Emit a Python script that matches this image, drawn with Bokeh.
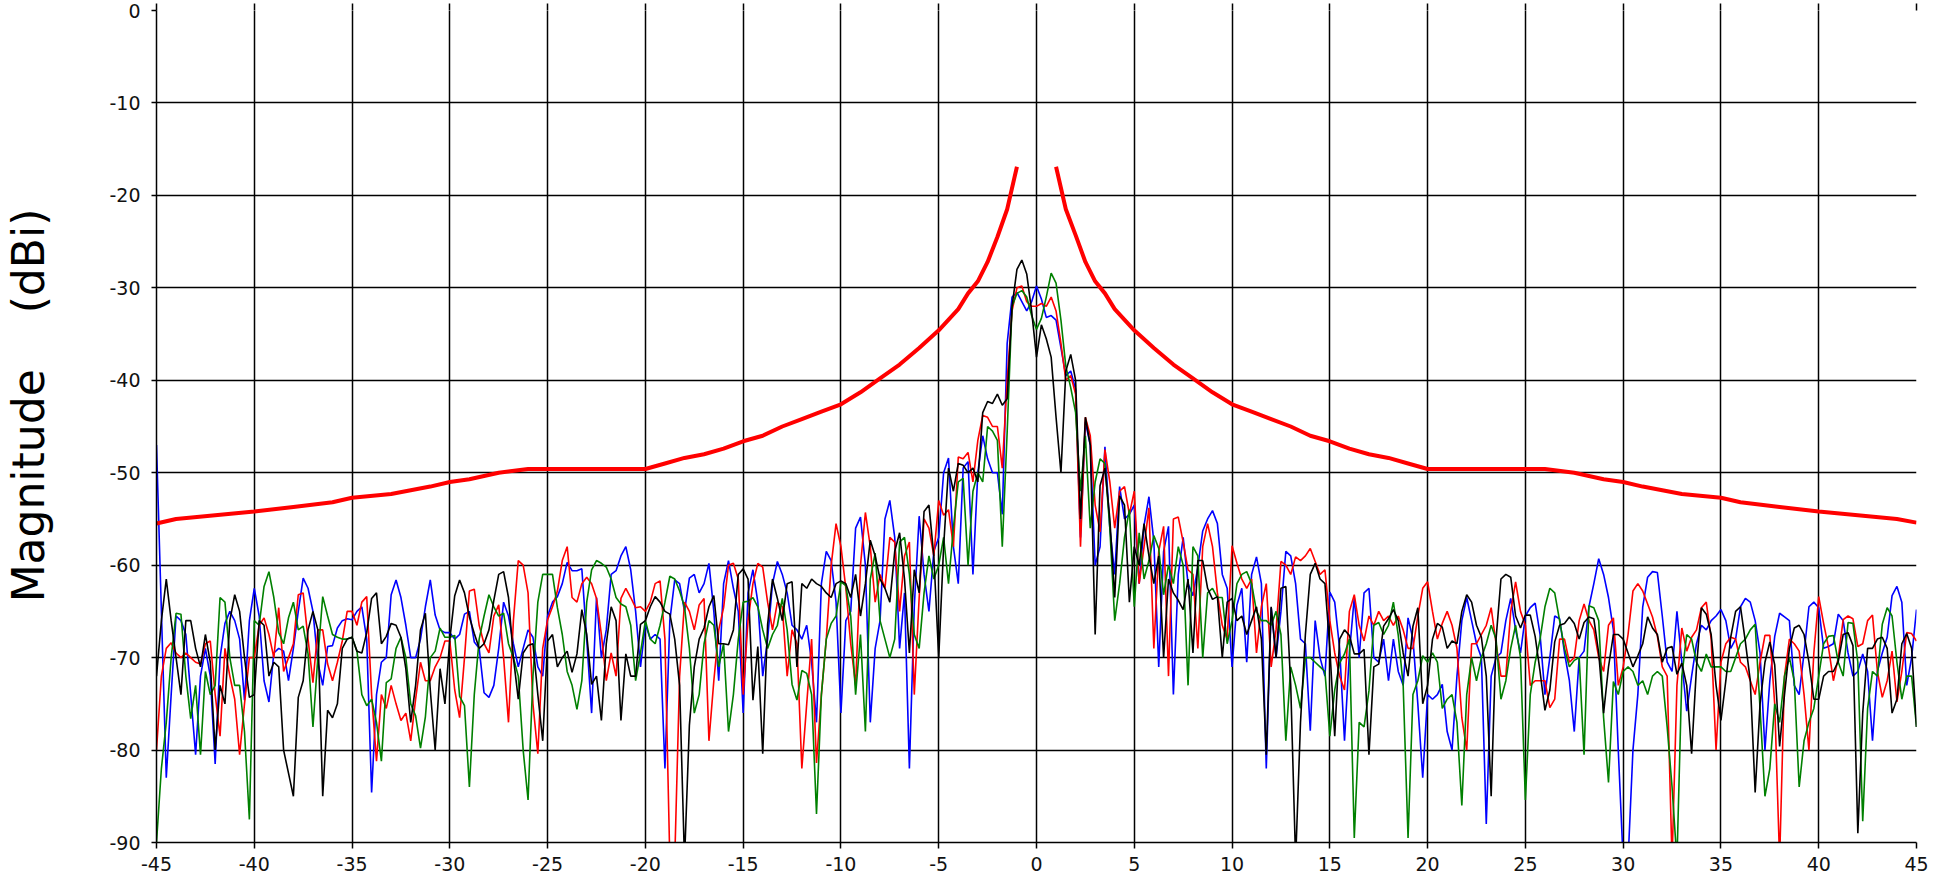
import numpy as np
from bokeh.plotting import figure
from bokeh.models import FixedTicker, Range1d, LinearAxis
from bokeh.embed import file_html
from bokeh.resources import INLINE

# Angle grid of the measured traces (degrees), 0.25 deg sampling
angles = [round(-45 + 0.25 * i, 2) for i in range(361)]

x_ticks = list(range(-45, 46, 5))
y_ticks = list(range(-90, 1, 10))
x_tick_labels = {t: str(t) for t in x_ticks}
y_tick_labels = {t: str(t) for t in y_ticks}
y_title_words = ["Magnitude", "(dBi)"]

blue_db = [
    -47, -65, -83, -74, -65.5, -66, -67.5, -74, -80.5, -72, -69, -72, -81.5, -70, -66.3, -65, -66, -68, -74.6, -66,
    -62.5, -65.5, -72.5, -74.8, -69.5, -69, -69.3, -72.5, -69, -65, -61.4, -62.5, -65, -70.5, -73, -68.8, -68.7, -66.8, -66, -65.8,
    -65.9, -65, -64.5, -68, -84.6, -74, -70.5, -70, -63.2, -61.6, -63.5, -66.5, -70, -70, -68, -64.5, -61.6, -65.4, -67, -67.3,
    -67.3, -68, -67.5, -65.3, -65, -68.3, -69, -73.8, -74.3, -73, -69, -64, -65.5, -68.5, -71, -69, -67, -67.8, -71, -72,
    -65.5, -64, -63.4, -62, -59.7, -60.6, -60.6, -60.4, -68, -76, -63.5, -70, -67, -61, -60.6, -59, -58, -60.5, -65, -71,
    -66.4, -68, -67.5, -68, -82, -66, -61.6, -62, -65, -61.4, -61, -63, -62, -59.8, -65, -72.5, -62, -59.5, -62.5, -65,
    -76, -63, -60.5, -64, -72, -68, -62, -59.6, -61, -63, -66.5, -67, -68, -66.5, -70.5, -77, -62, -58.5, -59.5, -64,
    -76, -66, -65, -56, -54.8, -60, -77, -69, -66, -55, -53, -57, -69, -63, -82, -64.5, -54.7, -61, -65, -58.5,
    -57, -50, -48.4, -58, -62, -49.5, -48.8, -61, -50, -46, -48.5, -50, -50, -54.5, -36, -31, -30.5, -31.5, -32.5, -31.5,
    -29.8, -31.2, -33.2, -33, -33.5, -36.5, -39.5, -39, -41, -57, -44.5, -47, -60, -58, -47.2, -56, -61, -51.5, -55, -54.5,
    -53.5, -62, -55.7, -52.6, -57.4, -71, -58.5, -55.8, -74, -61, -57, -62, -63.3, -60.2, -56.3, -55, -54.1, -55.5, -61, -62.5,
    -71, -64.3, -62.5, -70.5, -61, -59.1, -62, -82, -64.6, -70, -65, -58.5, -59, -62, -68, -68.5, -77.9, -66, -70, -72,
    -62.9, -64, -69, -79, -69.5, -63.5, -70, -63, -62.5, -70, -70.5, -68, -72.5, -68, -71.5, -73, -65.7, -68, -75, -83,
    -74, -74.5, -74, -72.9, -78, -80, -72, -66, -63.5, -66, -68.5, -70, -88, -72, -70, -69.5, -66, -63.6, -67, -69.5,
    -65.5, -64.6, -64.1, -67.5, -74, -70, -65.5, -65.8, -69.5, -72.5, -78, -70, -69.3, -64.5, -62, -59.3, -61, -63.5, -67, -80,
    -92, -92, -80, -74, -64.5, -61.3, -60.7, -60.8, -65.5, -70.5, -71.5, -65, -70.5, -75.8, -72, -68.5, -66.5, -67, -66, -65.5,
    -64.8, -66, -69, -68, -64.5, -63.6, -64, -66, -69.5, -80, -72.5, -67.7, -65.2, -65.6, -66, -73, -74, -69.5, -64.5, -64,
    -64.6, -69, -68.8, -68.5, -65.3, -66, -69.5, -72, -71.5, -69.6, -71.5, -79, -71.5, -69.5, -67.8, -63.3, -62.3, -64, -73, -70, -64.8,
]

red_db = [
    -80, -72, -69, -68.4, -69.5, -70, -69.5, -70, -70.5, -70.7, -68.5, -68.2, -74, -78.5, -69, -72, -74.5, -80.5, -75, -70,
    -70, -66.5, -65.7, -67.5, -70, -64.6, -71.5, -70, -68.5, -63.2, -63, -68, -72.7, -67, -67, -70.7, -72.5, -70.5, -68.2, -65,
    -65, -66.5, -64, -63.4, -74, -81.2, -74, -75.5, -73, -75, -76.8, -76, -79, -74.5, -70.5, -72.5, -72.5, -71, -70, -68.2,
    -68.2, -73.5, -76.5, -70, -62.8, -62.6, -66.5, -68.5, -69.5, -65.5, -64.3, -70, -77, -66, -59.5, -60, -63, -75, -80.4, -69,
    -65.9, -64.5, -62.8, -59.5, -58, -63.5, -64, -62, -61.3, -62, -63.6, -67.5, -72.5, -69.5, -72, -63.6, -62.5, -63.5, -64.6, -64.5,
    -65, -64, -62, -61.7, -68, -92, -92, -72, -64, -65, -67, -64.3, -63.6, -79, -72.5, -67, -64.6, -60, -59.8, -61.5,
    -74, -66, -62, -59.8, -60.2, -64, -67, -64, -64.5, -72, -67, -68.5, -82, -75, -68, -81.4, -74, -68, -60, -55.5,
    -58, -62.5, -68.5, -73, -60, -54.3, -58, -64, -61, -62.5, -57, -57.5, -65, -59, -57.5, -74, -63.5, -55, -56, -59,
    -53, -54.6, -54, -58, -48.3, -48.5, -47.8, -51, -46.5, -43.8, -44, -45, -45, -49.5, -40, -32.5, -30, -29.8, -31.5, -32,
    -32, -31.7, -32, -31, -32.5, -36, -40, -39.5, -41.5, -58, -44, -46, -53.5, -56.4, -47.5, -51, -56, -52, -51.5, -54.5,
    -52, -62, -58, -53.8, -69, -58.5, -55.8, -72, -55, -54.8, -57.5, -60.5, -61, -69, -58, -55.5, -58, -63, -66.5, -68,
    -57.9, -59.8, -61.5, -62.5, -61.5, -69.5, -64.5, -62, -71, -67, -59.6, -60, -61, -59.1, -59.5, -59, -58.2, -59.6, -61, -60.5,
    -66, -69.5, -72, -73.5, -65, -63.2, -66.5, -68.2, -65.5, -66.5, -65, -66, -65.5, -66.5, -65.5, -67, -69, -69, -65.5, -62.5,
    -61.8, -65, -68, -66.3, -65, -66.5, -69, -76.5, -80, -68.5, -68.5, -67.5, -66.5, -64.6, -68.5, -72, -72, -65, -61.8, -65,
    -66.5, -73, -72.5, -72.5, -72.5, -75.4, -74.5, -68, -68, -70.5, -70, -66, -64.2, -66, -67, -70, -71.5, -66.5, -65.7, -73,
    -71, -67.5, -62.8, -62, -62.8, -64.2, -65.6, -67.7, -71, -72, -92, -73, -66.8, -69.3, -67.8, -67, -64.6, -64, -68, -80,
    -70.5, -68.5, -67.8, -68, -70.5, -71, -72.5, -74, -70.5, -67.6, -67.6, -75, -92, -72, -68, -68.5, -69.3, -74, -80, -69.5,
    -63.4, -66.3, -68.9, -72.5, -70, -65.9, -65.5, -65.8, -68.8, -68.5, -66, -65.4, -71.5, -74.3, -72.5, -69.3, -74.8, -71.5, -67.3, -67.4, -68.2,
]

green_db = [
    -90, -82, -77, -70, -65.2, -65.3, -72, -76.6, -73, -80.5, -71.5, -74, -73, -63.5, -64, -70, -73, -73, -78, -87.5,
    -66, -66.5, -62.3, -60.7, -63.5, -67.3, -68.5, -65.7, -64, -67, -66.6, -69.6, -77.5, -70, -63.4, -65.5, -67.5, -67.8, -68, -68,
    -67.8, -69.3, -74, -75.2, -74.5, -77, -81.2, -72.7, -72.3, -69, -67.8, -70, -75, -76.3, -79.8, -76.4, -70, -69.3, -66.8, -67.8,
    -67.8, -67.6, -74.2, -75.2, -84, -74, -68, -65.5, -63.2, -64.5, -65.5, -65.2, -68.5, -70, -72, -80, -85.4, -72, -64, -61,
    -61, -61, -64.6, -67.5, -71.5, -73, -75.6, -72.5, -64, -60.5, -59.5, -59.8, -60.2, -61.5, -63.5, -64.2, -64.5, -66.5, -72.5, -69.5,
    -66, -68, -68.5, -66.5, -64, -61.2, -61.5, -62.8, -64.5, -69, -76, -74, -68.5, -66, -66.5, -71, -68.5, -78, -74, -68,
    -64, -63.9, -63.5, -64.5, -67, -69, -67.5, -66.5, -63.6, -67, -72.9, -74.6, -71.4, -71.7, -74, -86.9, -74, -68, -66.3, -65.5,
    -61.8, -62.2, -65.5, -74, -67.5, -78, -61.5, -58.7, -66, -68, -70, -68, -57.5, -57, -61, -67.5, -69, -63, -59, -61.5,
    -60, -57, -62, -56, -51, -50.6, -60, -52, -50, -51, -45, -45.5, -46.5, -58, -45.6, -32, -30.6, -30.3, -31, -33,
    -34.5, -33.3, -31, -28.4, -29.5, -33.5, -38.5, -40.8, -43.5, -52, -46, -56, -51, -48.5, -49, -56, -66, -62, -57, -54,
    -64.5, -56.5, -61.5, -59.5, -56.8, -58.2, -63.2, -60, -62, -58, -60, -73, -58, -59, -70, -63, -62.5, -63.5, -63.5, -68.5,
    -66, -62, -61, -60.7, -62, -65, -66, -66, -66.5, -65, -67.5, -79, -71, -73, -75.5, -70, -70, -70.5, -71, -71.5,
    -78.5, -73.5, -70.6, -69.6, -68, -89.5, -77, -77.5, -73.6, -66.5, -66.2, -67.5, -66.5, -64, -67.6, -73, -89.5, -74, -72.5, -69.8,
    -70.5, -69.5, -70.5, -75.5, -74.5, -74, -77, -86, -74, -70, -72.5, -70, -68.5, -66.5, -68, -74.5, -72.5, -69, -66.5, -70,
    -85.4, -74, -70.5, -68, -64.5, -62.5, -63, -66, -69, -71, -70.3, -70, -80.5, -64.4, -64.6, -66, -76.5, -83.5, -72.6, -74,
    -71.5, -71, -71.5, -73, -72.5, -74, -72, -71.5, -72, -77.5, -84, -92, -72, -67.5, -68, -70.5, -71.5, -69.6, -71, -71,
    -71, -71.5, -71.5, -70, -68.5, -68, -67, -66.4, -75.5, -85, -82, -75, -77, -72, -70, -72.5, -84, -79, -77, -75.5,
    -72, -68.5, -67.7, -67.6, -70.5, -72, -66.2, -66.3, -70.5, -87.7, -75.5, -71.5, -72, -66.4, -64.6, -65.5, -70.5, -74.5, -72, -72, -77.5,
]

black_db = [
    -72, -66, -61.5, -66, -70, -74, -66, -66, -69, -71, -67.5, -70.5, -80, -73, -75, -66, -63.2, -65, -70, -74.3,
    -74, -66, -66.5, -72, -70.5, -71, -80, -82.5, -85, -74.3, -72.5, -67, -65, -67, -85, -75.7, -76.5, -75, -69, -68,
    -67.8, -69.3, -69.5, -67.3, -63.6, -63, -68.5, -67.7, -66.3, -66.5, -67.8, -71.2, -77, -73, -67, -65.2, -73.5, -80, -71.2, -75,
    -68, -63.3, -61.6, -63, -65.6, -67.4, -69, -68.5, -67, -63.8, -61, -60.7, -63.5, -70, -74.5, -69.5, -68.7, -68.5, -74, -79,
    -68.2, -67.5, -71, -70, -69.3, -71.6, -69.6, -64.8, -67.5, -72.9, -72, -76.8, -68.5, -64.5, -66, -76.8, -69.6, -72, -72, -66.4,
    -66, -64.5, -63.4, -64, -65, -65.3, -68, -73, -92, -77.3, -71, -68, -66.8, -64.5, -63.3, -68.5, -68.5, -68.6, -67, -61,
    -60.4, -61.5, -74.6, -68.8, -80.4, -66.4, -61.5, -63.6, -66, -62, -61.8, -71, -62, -62.5, -61.5, -62, -62.3, -63, -63.5, -62,
    -61.7, -62, -63.5, -61, -65.5, -62, -57.3, -59, -61.5, -62.5, -64, -58.5, -56.5, -61.5, -69.5, -60.5, -63, -54.2, -53.5, -59,
    -70, -58, -49.5, -52, -49, -49.2, -50, -49.5, -51, -43.5, -42.3, -42.5, -41.5, -42.7, -42, -32, -28, -27, -28.5, -32.5,
    -37.5, -34, -35.5, -37.5, -44, -50, -39, -37.2, -40, -55, -44, -47, -67.5, -51.4, -49.5, -55, -63.5, -52.5, -53.5, -64,
    -58, -60, -55.5, -59, -62, -59, -70, -61.5, -63, -63.8, -64.8, -61.5, -69.5, -59.5, -59.5, -62.5, -63.7, -63.4, -70, -64,
    -63.6, -66, -65.5, -67.5, -66, -64.5, -68, -80.5, -64.5, -70, -62.5, -62.3, -73, -92, -77, -67.5, -61, -59.8, -61.5, -62,
    -69, -78.5, -68, -67, -67.6, -69.6, -69.6, -69.1, -80.5, -71, -70.7, -66.6, -65.8, -64.8, -66, -69.5, -72, -66.6, -64.6, -75,
    -73, -68, -66.3, -66.7, -69, -68.2, -68.5, -65, -63.2, -64, -66.5, -67.8, -72, -85, -68, -61.5, -61, -61.3, -65.5, -66.8,
    -65.4, -65.4, -67.7, -71.5, -75.7, -73.5, -68.3, -66.5, -66.3, -65.6, -66.3, -68, -66.2, -65.6, -65.8, -69.5, -76, -71, -67.5, -67.5,
    -68, -69.5, -71, -69.8, -68.5, -65.6, -66.8, -67.5, -70.5, -69, -68.8, -71.8, -70.6, -73, -80.4, -71, -64.6, -65.3, -67.5, -73,
    -76.8, -72.5, -67.8, -65, -64.5, -68.3, -72.5, -84.6, -75, -70.5, -68.3, -70.8, -79.6, -74, -69, -66.8, -66.5, -67.5, -70.5, -74.5,
    -74.5, -72, -71.5, -71.5, -70.4, -67.5, -67.3, -68.7, -89, -76, -69, -69, -68, -67.8, -69, -76, -74.5, -68.5, -67.4, -69, -77.5,
]

# Limit mask (dBi), left and right branches
mask_left_deg = [-45, -44, -40, -38, -36, -35, -33, -31, -30, -29, -27.5, -26, -20, -19, -18, -17, -16, -15,
                 -14, -13, -12, -11, -10, -9, -8, -7, -6, -5, -4, -3.5, -3, -2.5, -2, -1.5, -1]
mask_left_db = [-55.5, -55.0, -54.2, -53.7, -53.2, -52.7, -52.3, -51.5, -51.0, -50.7, -50.0, -49.6, -49.6, -49.0,
                -48.4, -48.0, -47.4, -46.6, -46.0, -45.0, -44.2, -43.4, -42.6, -41.3, -39.8, -38.3, -36.5, -34.6,
                -32.3, -30.6, -29.3, -27.2, -24.5, -21.5, -16.9]
mask_right_deg = [1, 1.5, 2, 2.5, 3, 3.5, 4, 5, 6, 7, 8, 9, 10, 11, 12, 13, 14, 15, 16, 17, 18, 19, 20,
                  26, 27.5, 29, 30, 31, 33, 35, 36, 38, 40, 44, 45]
mask_right_db = [-16.9, -21.5, -24.3, -27.2, -29.3, -30.6, -32.3, -34.6, -36.5, -38.3, -39.8, -41.3, -42.6, -43.4,
                 -44.2, -45.0, -46.0, -46.6, -47.4, -48.0, -48.4, -49.0, -49.6, -49.6, -50.0, -50.7, -51.0, -51.5,
                 -52.3, -52.7, -53.2, -53.7, -54.2, -55.0, -55.4]

for s in (blue_db, red_db, green_db, black_db):
    assert len(s) == len(angles), len(s)

p = figure(width=1939, height=879, x_range=Range1d(-45, 45), y_range=Range1d(-90, 0),
           output_backend="svg", toolbar_location=None,
           min_border_left=154, min_border_right=23, min_border_top=10, min_border_bottom=37)
p.outline_line_color = None
p.background_fill_color = "white"
p.border_fill_color = "white"

for grid, ticks in ((p.xgrid, x_ticks), (p.ygrid, y_ticks)):
    grid.ticker = FixedTicker(ticks=ticks)
    grid.grid_line_color = "black"
    grid.grid_line_width = 1.5

for ax, ticks, labels in ((p.xaxis, x_ticks, x_tick_labels), (p.yaxis, y_ticks, y_tick_labels)):
    ax.ticker = FixedTicker(ticks=ticks)
    ax.major_label_overrides = labels
    ax.axis_line_color = "black"
    ax.axis_line_width = 1.5
    ax.major_tick_line_color = "black"
    ax.major_tick_line_width = 1.5
    ax.major_tick_in = 0
    ax.minor_tick_line_color = None
    ax.major_label_text_font = "DejaVu Sans"
    ax.major_label_text_font_size = "19px"
    ax.major_label_text_color = "#111111"

p.xaxis.major_tick_out = 6
p.xaxis.major_label_standoff = 8
p.yaxis.major_tick_out = 5
p.yaxis.major_label_standoff = 11

# short tick marks above the top edge (no labels), as in the reference
top_axis = LinearAxis(ticker=FixedTicker(ticks=x_ticks), axis_line_color=None,
                      major_tick_line_color="black", major_tick_line_width=1.5,
                      major_tick_in=0, major_tick_out=7, minor_tick_line_color=None,
                      major_label_text_font_size="0px", major_label_standoff=0,
                      major_label_overrides={t: "" for t in x_ticks})
p.add_layout(top_axis, "above")

# vertical axis title: no-break spaces keep the wide gap between the words,
# a zero-width lead-in keeps the leading gap that lifts the title like in the reference
nbsp = "\u00a0"
p.yaxis.axis_label = "\u200b" + nbsp * 3 + (nbsp * 4).join(y_title_words)
p.yaxis.axis_label_text_font = "DejaVu Sans"
p.yaxis.axis_label_text_font_size = "44px"
p.yaxis.axis_label_text_font_style = "normal"
p.yaxis.axis_label_text_color = "black"
p.yaxis.axis_label_standoff = 52

trace_w = 1.6
p.line(angles, blue_db, line_color="#0000ff", line_width=trace_w)
p.line(angles, red_db, line_color="#ff0000", line_width=trace_w)
p.line(angles, green_db, line_color="#008000", line_width=trace_w)
p.line(angles, black_db, line_color="#000000", line_width=trace_w)
p.line(mask_left_deg, mask_left_db, line_color="#ff0000", line_width=4)
p.line(mask_right_deg, mask_right_db, line_color="#ff0000", line_width=4)

open("out.html", "w").write(file_html(p, INLINE))
